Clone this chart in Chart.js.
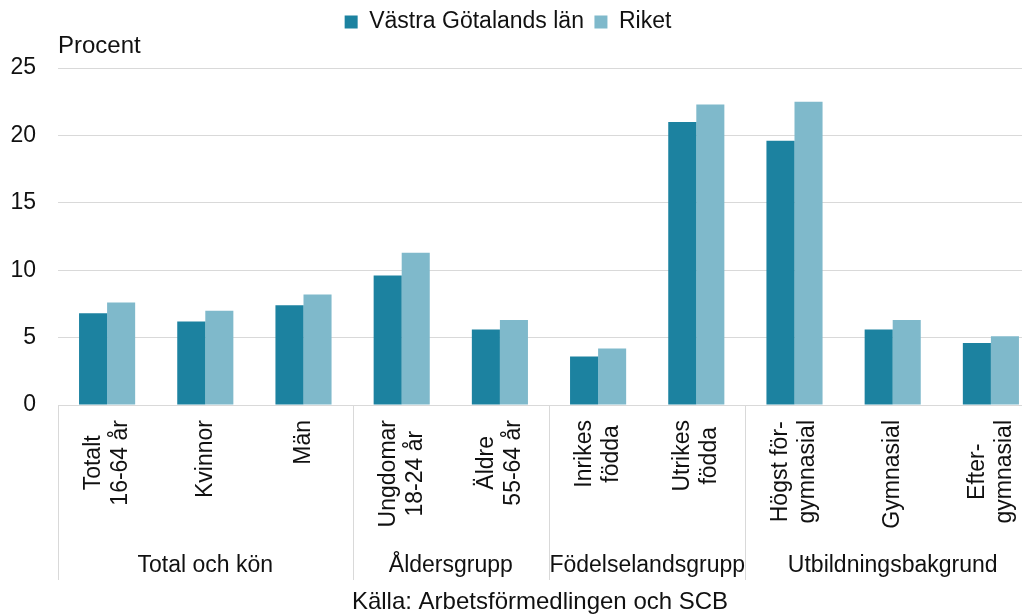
<!DOCTYPE html>
<html lang="sv">
<head>
<meta charset="utf-8" />
<title>Andel arbetslösa</title>
<script src="https://cdn.jsdelivr.net/npm/chart.js"></script>
<style>
  html, body { margin: 0; padding: 0; background: #fff; overflow: hidden; }
  #chart { display: block; }
</style>
</head>
<body>
<canvas id="chart" width="1040" height="616"></canvas>
<script>
// categories (multi-line labels) and the groups they belong to
const categories = [
  ['Totalt', '16-64 år'], ['Kvinnor'], ['Män'],
  ['Ungdomar', '18-24 år'], ['Äldre', '55-64 år'],
  ['Inrikes', 'födda'], ['Utrikes', 'födda'],
  ['Högst för-', 'gymnasial'], ['Gymnasial'], ['Efter-', 'gymnasial']
];
const groupNames = ['Total och kön', 'Åldersgrupp', 'Födelselandsgrupp', 'Utbildningsbakgrund'];
const groupStarts = [0, 3, 5, 7];

const seriesNames = ['Västra Götalands län', 'Riket'];
const vastraGotaland = [6.8, 6.2, 7.4, 9.6, 5.6, 3.6, 21.0, 19.6, 5.6, 4.6];
const riket = [7.6, 7.0, 8.2, 11.3, 6.3, 4.2, 22.3, 22.5, 6.3, 5.1];

const yTicks = [0, 5, 10, 15, 20, 25];
const yTitle = 'Procent';
const source = 'Källa: Arbetsförmedlingen och SCB';

const FONT = '"Liberation Sans", Arial, sans-serif';
const TEXT = '#111111';
const GRID = '#d9d9d9';

// extra texts: y title, rotated category labels, group labels, separators, source
const extras = {
  id: 'extras',
  afterLayout(chart) {
    // legend sits a bit left of the canvas centre in the original
    chart.legend.left -= 12;
    chart.legend.right -= 12;
  },
  afterDraw(chart) {
    const { ctx, chartArea } = chart;
    const x = chart.scales.x;
    const step = x.getPixelForValue(1) - x.getPixelForValue(0);
    ctx.save();
    ctx.fillStyle = TEXT;

    ctx.font = '24px ' + FONT;
    ctx.textAlign = 'left';
    ctx.textBaseline = 'alphabetic';
    ctx.fillText(yTitle, chartArea.left, 53);

    // category labels, rotated, lines centred on each other
    ctx.font = '23px ' + FONT;
    categories.forEach((lines, i) => {
      const cx = x.getPixelForValue(i);
      const maxW = Math.max(...lines.map(l => ctx.measureText(l).width));
      const midY = chartArea.bottom + 15 + maxW / 2;
      lines.forEach((l, j) => {
        const off = (j - (lines.length - 1) / 2) * 27;
        ctx.save();
        ctx.translate(cx + off, midY);
        ctx.rotate(-Math.PI / 2);
        ctx.textAlign = 'center';
        ctx.textBaseline = 'middle';
        ctx.fillText(l, 0, 0);
        ctx.restore();
      });
    });

    // group separators
    ctx.strokeStyle = GRID;
    ctx.lineWidth = 1;
    const bounds = groupStarts.concat([categories.length]);
    bounds.forEach(b => {
      const bx = Math.round(x.getPixelForValue(b) - step / 2) + 0.5;
      ctx.beginPath();
      ctx.moveTo(bx, chartArea.bottom);
      ctx.lineTo(bx, 580);
      ctx.stroke();
    });

    // group names
    ctx.textAlign = 'center';
    ctx.textBaseline = 'alphabetic';
    groupNames.forEach((g, k) => {
      const a = x.getPixelForValue(bounds[k]) - step / 2;
      const b = x.getPixelForValue(bounds[k + 1]) - step / 2;
      ctx.fillText(g, (a + b) / 2, 572);
    });

    ctx.font = '24px ' + FONT;
    ctx.fillText(source, 540, 609);
    ctx.restore();
  }
};

new Chart(document.getElementById('chart'), {
  type: 'bar',
  data: {
    labels: categories.map(c => c.join(' ')),
    datasets: [
      { label: seriesNames[0], data: vastraGotaland, backgroundColor: '#1c82a0' },
      { label: seriesNames[1], data: riket, backgroundColor: '#7fb9cb' }
    ]
  },
  options: {
    responsive: false,
    animation: false,
    devicePixelRatio: 1,
    categoryPercentage: 0.5714,
    barPercentage: 1,
    layout: { padding: 0 },
    plugins: {
      legend: {
        position: 'top',
        labels: {
          boxWidth: 13,
          boxHeight: 13,
          padding: 10.5,
          color: TEXT,
          font: { family: FONT, size: 23 }
        }
      },
      // empty spacer box between legend and plot
      title: {
        display: true,
        text: '',
        weight: 100,
        font: { size: 10, lineHeight: 1 },
        padding: { top: 14.5, bottom: 0 }
      },
      tooltip: { enabled: false }
    },
    scales: {
      x: {
        grid: { display: false },
        border: { display: true, color: GRID, width: 1 },
        ticks: { display: false },
        afterFit(s) { s.height = 211; }
      },
      y: {
        min: 0,
        max: 25,
        afterBuildTicks(s) { s.ticks = yTicks.map(v => ({ value: v })); },
        grid: { color: GRID, drawTicks: false },
        border: { display: false },
        ticks: {
          padding: 22,
          color: TEXT,
          font: { family: FONT, size: 23 }
        },
        afterFit(s) { s.width = 58; }
      }
    }
  },
  plugins: [extras]
});
</script>
</body>
</html>
